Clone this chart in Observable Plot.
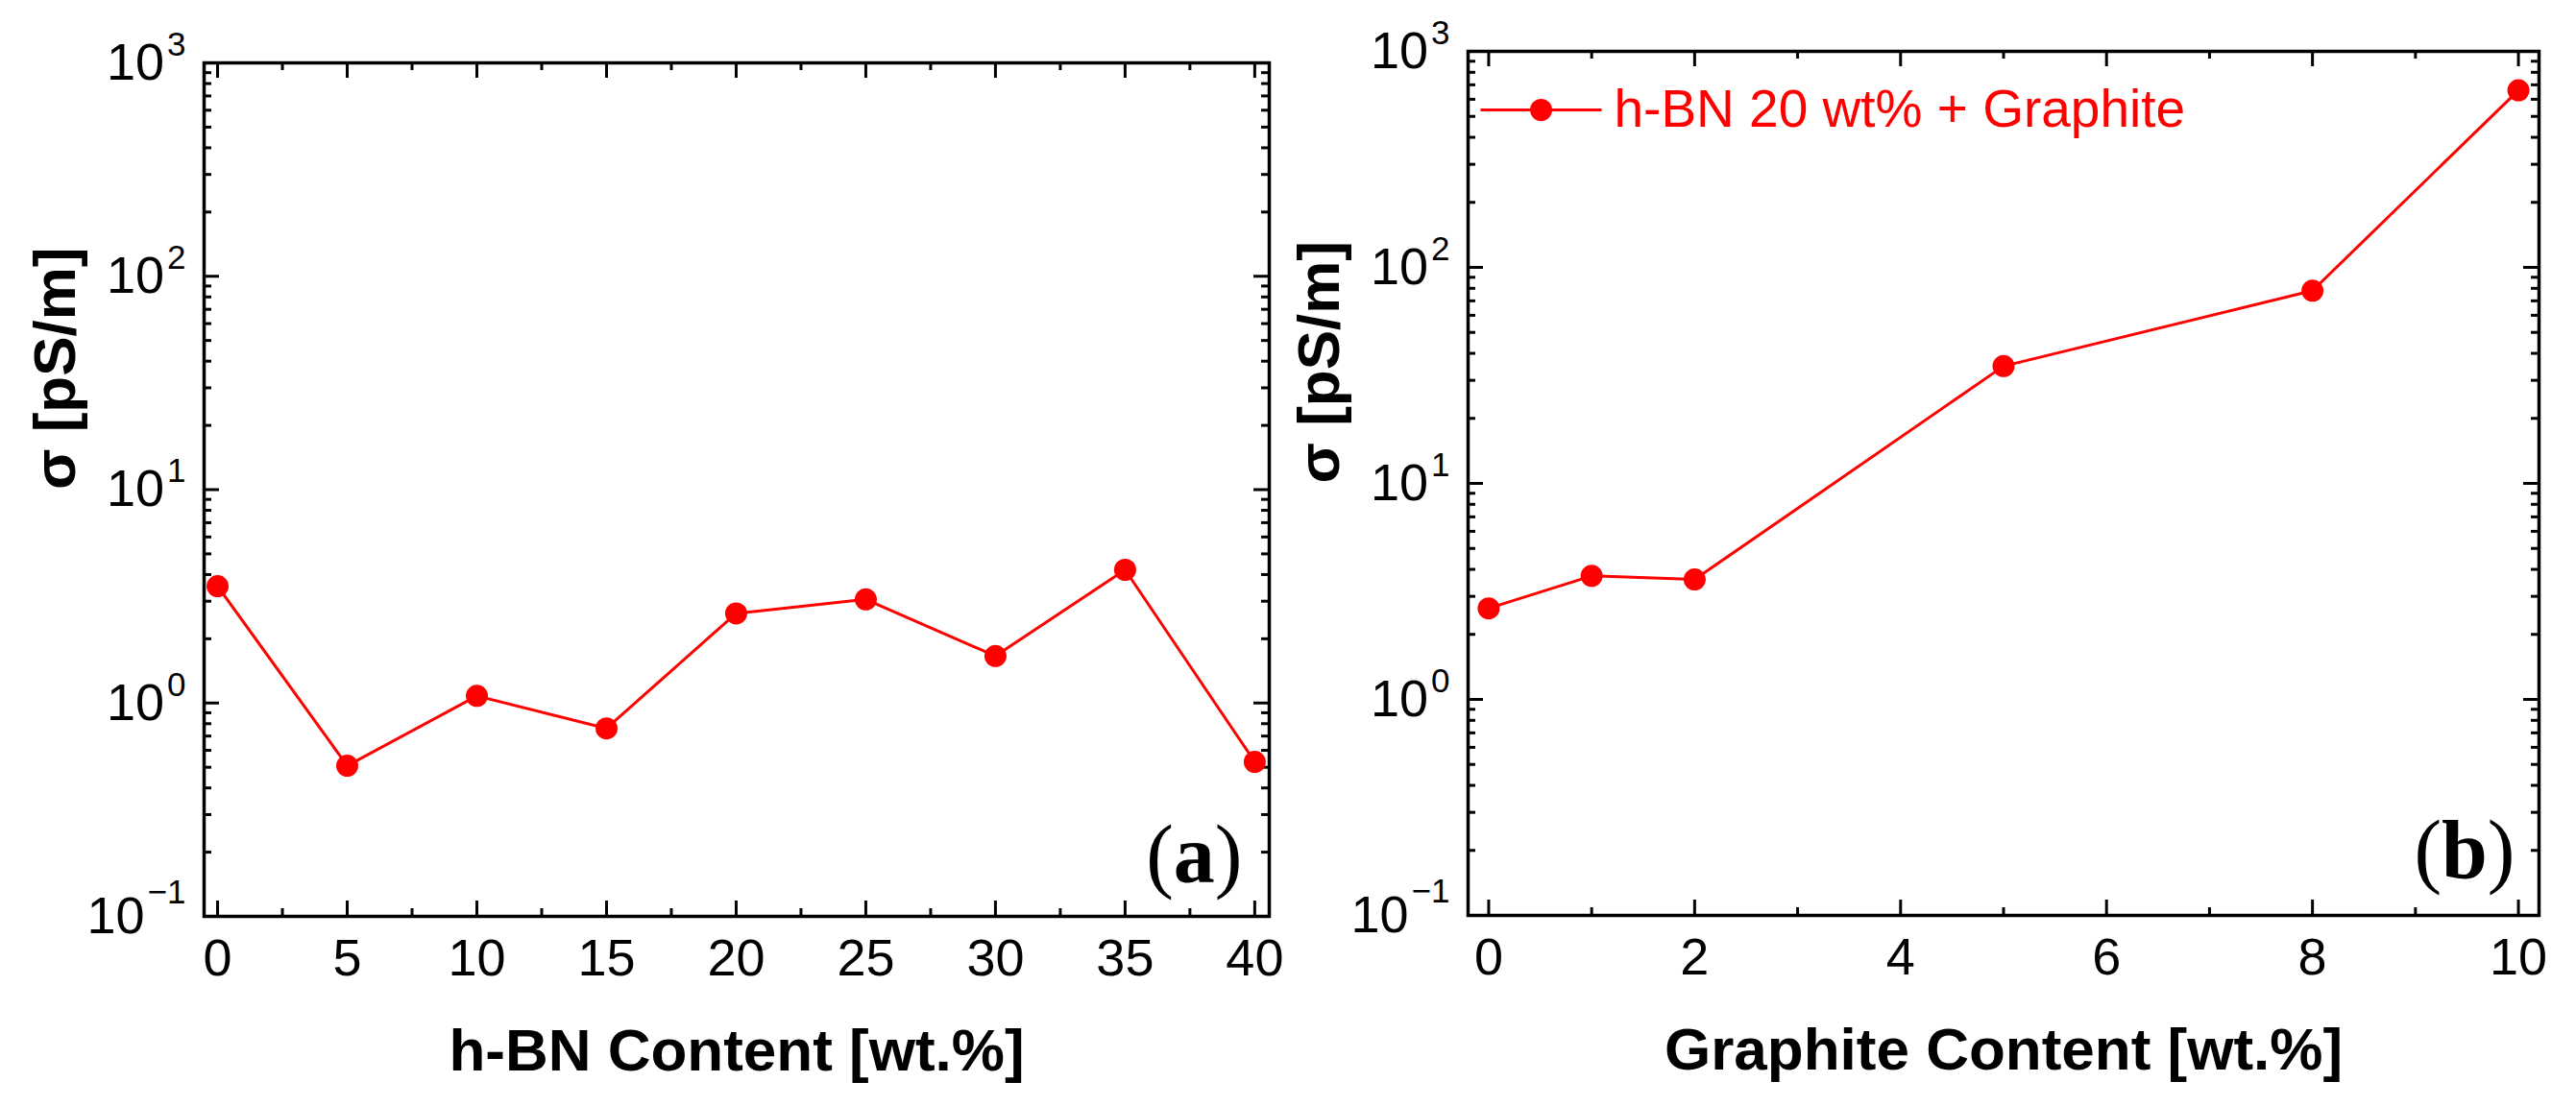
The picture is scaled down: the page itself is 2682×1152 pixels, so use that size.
<!DOCTYPE html>
<html><head><meta charset="utf-8">
<script src="https://cdn.jsdelivr.net/npm/d3@7"></script>
<script src="https://cdn.jsdelivr.net/npm/@observablehq/plot@0.6"></script>
<style>
html,body{margin:0;padding:0;background:#fff;}
#wrap{display:flex;width:2682px;height:1152px;}
#wrap > div{width:1341px;height:1152px;}
</style></head><body><div id="wrap"><div id="pa"></div><div id="pb"></div></div>
<script>
// ---- data ----
const hbnContent = [0, 5, 10, 15, 20, 25, 30, 35, 40];
const hbnSigma   = [3.53, 0.508, 1.08, 0.76, 2.63, 3.06, 1.66, 4.21, 0.53];
const graphiteContent = [0, 1, 2, 5, 8, 10];
const graphiteSigma   = [2.64, 3.73, 3.59, 34.9, 78, 660];

// ---- ticks / labels ----
const yMajor = [0.1, 1, 10, 100, 1000];
const yExponents = ["\u22121", "0", "1", "2", "3"];
const yMinor = [0.2,0.3,0.4,0.5,0.6,0.7,0.8,0.9, 2,3,4,5,6,7,8,9, 20,30,40,50,60,70,80,90, 200,300,400,500,600,700,800,900];
const xMajorA = [0, 5, 10, 15, 20, 25, 30, 35, 40];
const xMinorA = [2.5, 7.5, 12.5, 17.5, 22.5, 27.5, 32.5, 37.5];
const xMajorB = [0, 2, 4, 6, 8, 10];
const xMinorB = [1, 3, 5, 7, 9];
const xTitleA = "h-BN Content [wt.%]";
const xTitleB = "Graphite Content [wt.%]";
const yTitle = "\u03c3 [pS/m]";
const tagA = "(a)";
const tagB = "(b)";
const legendLabel = "h-BN 20 wt% + Graphite";

const W = 1341, H = 1152;
const RED = "#ff0000";
const expMap = new Map(yMajor.map((v, i) => [v, yExponents[i]]));

const lineSymbol = {draw(ctx) { ctx.moveTo(-63, 0); ctx.lineTo(63, 0); }};

function panel(o) {
  const fw = W - o.ml - o.mr, fh = H - o.mt - o.mb;
  const rows = o.xs.map((x, i) => ({x, y: o.ys[i]}));
  const marks = [
    Plot.frame({stroke: "black", strokeWidth: 3.5}),
    // bottom / top x ticks (inward)
    Plot.tickX(o.xMajor, {x: d => d, insetTop: fh - 16, stroke: "black", strokeWidth: 3}),
    Plot.tickX(o.xMajor, {x: d => d, insetBottom: fh - 16, stroke: "black", strokeWidth: 3}),
    Plot.tickX(o.xMinor, {x: d => d, insetTop: fh - 8, stroke: "black", strokeWidth: 3}),
    Plot.tickX(o.xMinor, {x: d => d, insetBottom: fh - 8, stroke: "black", strokeWidth: 3}),
    // left / right y ticks (inward)
    Plot.tickY(yMajor, {y: d => d, insetRight: fw - 16, stroke: "black", strokeWidth: 3}),
    Plot.tickY(yMajor, {y: d => d, insetLeft: fw - 16, stroke: "black", strokeWidth: 3}),
    Plot.tickY(yMinor, {y: d => d, insetRight: fw - 8, stroke: "black", strokeWidth: 3}),
    Plot.tickY(yMinor, {y: d => d, insetLeft: fw - 8, stroke: "black", strokeWidth: 3}),
    Plot.axisX(o.xMajor, {tickSize: 0, tickPadding: 23, fontSize: 54, label: null}),
    Plot.axisY(yMajor, {tickSize: 0, tickPadding: 19, fontSize: 54, label: null,
      tickFormat: d => "10^" + expMap.get(d)}),
    Plot.line(rows, {x: "x", y: "y", stroke: RED, strokeWidth: 3}),
    Plot.dot(rows, {x: "x", y: "y", r: 11.5, fill: RED}),
    Plot.text([o.xTitle], {text: d => d, frameAnchor: "bottom", dy: 160, lineAnchor: "bottom",
      fontSize: 62, fontWeight: "bold"}),
    Plot.text([yTitle], {text: d => d, frameAnchor: "left", dx: -135, rotate: -90, lineAnchor: "bottom",
      fontSize: 62, fontWeight: "bold"}),
    Plot.text([o.tag], {text: d => d, frameAnchor: "bottom-right", dx: o.tagDx, dy: o.tagDy,
      textAnchor: "end", lineAnchor: "bottom", fontFamily: "'Liberation Serif', 'DejaVu Serif', serif",
      fontWeight: "bold", fontSize: 86})
  ];
  if (o.legend) {
    marks.push(
      Plot.dot([o.legend], {frameAnchor: "top-left", dx: 76, dy: 61, symbol: lineSymbol,
        stroke: RED, strokeWidth: 3, fill: "none"}),
      Plot.dot([o.legend], {frameAnchor: "top-left", dx: 76, dy: 61, r: 11.5, fill: RED}),
      Plot.text([o.legend], {text: d => d, frameAnchor: "top-left", dx: 152, dy: 61,
        textAnchor: "start", lineAnchor: "middle", fill: RED, fontSize: 55})
    );
  }
  const svg = Plot.plot({
    width: W, height: H,
    marginLeft: o.ml, marginRight: o.mr, marginTop: o.mt, marginBottom: o.mb,
    style: {fontFamily: "'Liberation Sans', Arial, sans-serif", fontSize: "54px", background: "white", color: "black", overflow: "visible"},
    x: {domain: o.xDomain},
    y: {type: "log", domain: [0.1, 1000]},
    marks
  });
  // render exponents as superscripts
  d3.select(svg).selectAll('g[aria-label="y-axis tick label"] text').each(function() {
    const t = d3.select(this);
    const [base, exp] = t.text().split("^");
    t.text(null);
    t.append("tspan").text(base);
    t.append("tspan").attr("dx", 3).attr("dy", exp.startsWith("\u2212") ? -31 : -25)
      .attr("font-size", 35).text(exp);
  });
  // panel tag: regular-weight parentheses, bold letter
  d3.select(svg).selectAll("text").filter(function() { return this.textContent === o.tag; }).each(function() {
    const t = d3.select(this);
    const s = t.text();
    t.text(null);
    t.append("tspan").attr("font-weight", "normal").text(s.slice(0, 1));
    t.append("tspan").attr("font-weight", "bold").text(s.slice(1, -1));
    t.append("tspan").attr("font-weight", "normal").text(s.slice(-1));
  });
  return svg;
}

document.getElementById("pa").appendChild(panel({
  xs: hbnContent, ys: hbnSigma, xDomain: [-0.52, 40.56],
  xMajor: xMajorA, xMinor: xMinorA, xTitle: xTitleA, tag: tagA,
  ml: 212, mr: 20, mt: 65, mb: 198, tagDx: -28, tagDy: -36
}));
document.getElementById("pb").appendChild(panel({
  xs: graphiteContent, ys: graphiteSigma, xDomain: [-0.2, 10.2],
  xMajor: xMajorB, xMinor: xMinorB, xTitle: xTitleB, tag: tagB,
  ml: 187, mr: 39, mt: 53, mb: 199, tagDx: -25, tagDy: -40, legend: legendLabel
}));
</script></body></html>
